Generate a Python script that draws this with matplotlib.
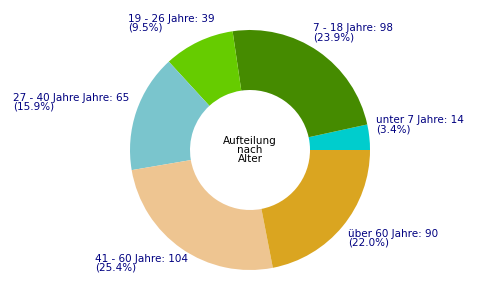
import numpy as np
import matplotlib.pyplot as plt

labels = ['unter 7 Jahre', '7 - 18 Jahre', '19 - 26 Jahre', '27 - 40 Jahre Jahre',
          '41 - 60 Jahre', 'über 60 Jahre']
values = [14, 98, 39, 65, 104, 90]
colors = ['#00CDCD', '#458B00', '#66CC00', '#7AC5CD', '#EEC591', '#DAA520']
# small nudges (pixels) for each label, left->right, up
nudges = [(-3, 2), (-11, 1), (21, 0), (2, -4), (12, 3), (-2, 4)]

fig = plt.figure(figsize=(5, 3), dpi=100)
ax = fig.add_axes([0, 0, 1, 1])
ax.axis('off')

wedges, _ = ax.pie(values, colors=colors, startangle=0, counterclock=True,
                   center=(250, 150), radius=120,
                   wedgeprops=dict(width=60, edgecolor='none'))
ax.set_xlim(0, 500)
ax.set_ylim(0, 300)
ax.set_aspect('equal')

total = sum(values)
for w, lab, v, (dx, dy) in zip(wedges, labels, values, nudges):
    ang = np.deg2rad((w.theta1 + w.theta2) / 2)
    x = 250 + 130 * np.cos(ang)
    y = 150 + 130 * np.sin(ang)
    ha = 'left' if np.cos(ang) > 0 else 'right'
    va = 'bottom' if np.sin(ang) > 0 else 'top'
    txt = '%s: %d\n(%.1f%%)' % (lab, v, 100.0 * v / total)
    ax.text(x + dx, y + dy, txt, ha=ha, va=va,
            fontsize=7.5, color='#000080', linespacing=0.85, multialignment='left')

ax.text(250, 150, 'Aufteilung\nnach\nAlter', ha='center', va='center',
        fontsize=7.5, color='black', linespacing=0.85)

fig.savefig('out.png', dpi=100)
